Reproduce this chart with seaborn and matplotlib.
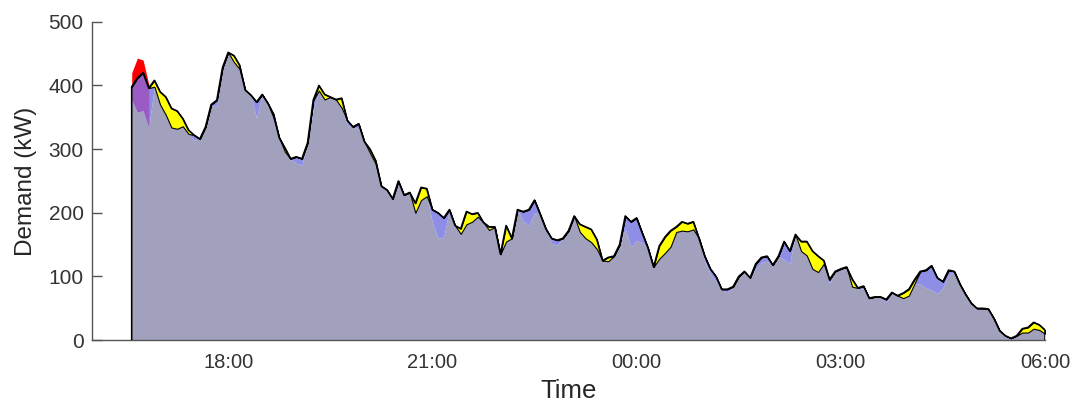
import numpy as np
import pandas as pd
import matplotlib
matplotlib.use("Agg")
import matplotlib.pyplot as plt
import matplotlib.dates as mdates
import seaborn as sns

# demand (kW) every 5 minutes from 16:35 to 06:00 -- the black line
demand = [
    398, 412, 420, 396, 408, 390, 382, 364, 360, 348,
    330, 322, 316, 335, 370, 377, 428, 452, 447, 432,
    393, 385, 374, 386, 372, 355, 318, 302, 285, 288,
    285, 310, 377, 400, 386, 382, 378, 380, 345, 335,
    340, 312, 300, 282, 242, 236, 222, 250, 228, 232,
    215, 240, 238, 205, 200, 192, 205, 180, 175, 202,
    198, 200, 185, 178, 178, 135, 180, 160, 205, 202,
    205, 220, 198, 175, 160, 157, 160, 172, 195, 182,
    178, 174, 158, 125, 130, 132, 150, 195, 186, 192,
    168, 145, 115, 148, 162, 172, 178, 186, 183, 186,
    160, 132, 112, 100, 80, 80, 84, 100, 108, 98,
    120, 130, 132, 118, 132, 155, 140, 166, 155, 155,
    140, 132, 125, 95, 108, 112, 115, 96, 82, 85,
    66, 68, 68, 64, 75, 70, 74, 80, 95, 108,
    110, 117, 98, 92, 110, 108, 88, 72, 58, 50,
    50, 49, 34, 15, 7, 3, 7, 18, 20, 28,
    24, 16,
]

# gap below the black line shown in yellow (kW)
yellow_gap = {
    "16:55": 10, "17:00": 20, "17:05": 28, "17:10": 30, "17:15": 28, "17:20": 12,
    "17:25": 6, "18:05": 10, "18:10": 6, "18:40": 6, "18:50": 6,
    "19:20": 8, "19:25": 8, "19:40": 15, "20:05": 6, "20:10": 5,
    "20:45": 15, "20:50": 20, "20:55": 12, "21:25": 8, "21:30": 20, "21:35": 12,
    "21:40": 6, "21:50": 5, "22:05": 25,
    "23:10": 12, "23:15": 18, "23:20": 20, "23:25": 15, "23:35": 6,
    "00:20": 20, "00:25": 25, "00:30": 25, "00:35": 8, "00:40": 14, "00:45": 12, "00:50": 12,
    "02:25": 15, "02:30": 22, "02:35": 28, "02:40": 25, "02:45": 5,
    "03:10": 12, "03:55": 8, "04:00": 10, "04:05": 6,
    "05:40": 6, "05:45": 8, "05:50": 10, "05:55": 8, "06:00": 6,
}

# gap below the black line shown in blue (kW)
blue_gap = {
    "16:35": 20, "16:40": 54, "16:45": 59, "16:50": 62,
    "17:30": 8, "17:50": 10, "18:25": 25, "19:00": 10, "19:05": 10, "19:15": 15,
    "19:45": 8, "19:55": 8, "21:00": 20, "21:05": 40, "21:10": 30,
    "22:20": 15, "22:25": 25, "22:30": 20, "22:45": 8, "22:50": 8,
    "23:50": 20, "23:55": 40, "00:00": 35, "00:05": 15,
    "01:00": 8, "01:05": 8, "01:10": 8, "01:20": 5,
    "01:45": 8, "01:50": 8, "01:55": 8, "02:10": 28, "02:15": 20,
    "02:50": 6, "03:20": 5, "03:40": 5,
    "04:10": 20, "04:15": 28, "04:20": 38, "04:25": 25, "04:30": 10, "04:35": 8,
}

# red peak above the line at the start (kW)
peak = {"16:35": 420, "16:40": 443, "16:45": 440, "16:50": 402}

times = pd.date_range("2016-01-01 16:35", periods=len(demand), freq="5min")
clock = times.strftime("%H:%M")
d = np.array(demand, dtype=float)
yel = np.array([yellow_gap.get(c, 0) for c in clock], dtype=float)
blu = np.array([blue_gap.get(c, 0) for c in clock], dtype=float)
pk = np.array([peak.get(c, np.nan) for c in clock], dtype=float)
served = d - yel - blu
has_peak = ~np.isnan(pk)

sns.set_theme(style="ticks")
plt.rcParams["font.family"] = ["Liberation Sans", "DejaVu Sans"]

fig = plt.figure(figsize=(10.75, 4.04), dpi=100)
ax = fig.add_axes([0.0856, 0.158, 0.8865, 0.788])

ax.fill_between(times, 0, served, color="#a1a1be", lw=0, zorder=2)
ax.fill_between(times, served, d - yel, color="#8e8ee6", lw=0, zorder=2)
ax.fill_between(times, served, d, where=has_peak, color="#9a5cc4", lw=0, zorder=3)
ax.fill_between(times, d, pk, where=has_peak, color="#ff0000", lw=0, zorder=3)
ax.fill_between(times, d - yel, d, color="#ffff00", edgecolor="black", lw=0.8, zorder=4)

outline = pd.DataFrame({
    "time": [times[0]] + list(times) + [times[-1]],
    "demand": [0.0] + list(d) + [0.0],
})
sns.lineplot(data=outline, x="time", y="demand", estimator=None, sort=False,
             color="black", lw=1.2, ax=ax, zorder=5)

ax.set_xlim(pd.Timestamp("2016-01-01 16:00"), pd.Timestamp("2016-01-02 06:00"))
ax.set_ylim(0, 500)
ax.set_yticks(range(0, 501, 100))
ax.xaxis.set_major_locator(mdates.HourLocator(byhour=range(0, 24, 3)))
ax.xaxis.set_major_formatter(mdates.DateFormatter("%H:%M"))

ax.set_axisbelow(True)
for s in ["top", "right"]:
    ax.spines[s].set_visible(False)
for s in ["left", "bottom"]:
    ax.spines[s].set_color("#555555")
    ax.spines[s].set_linewidth(1.0)
ax.tick_params(axis="y", direction="in", length=7, width=1, color="#555555",
               labelsize=15, labelcolor="#333333", pad=6)
ax.tick_params(axis="x", direction="in", length=0, labelsize=14.5,
               labelcolor="#333333", pad=9)

ax.set_xlabel("Time", fontsize=18.5, color="#262626", labelpad=5)
ax.set_ylabel("Demand (kW)", fontsize=17.5, color="#262626", labelpad=8)

fig.savefig("out.png", dpi=100)
